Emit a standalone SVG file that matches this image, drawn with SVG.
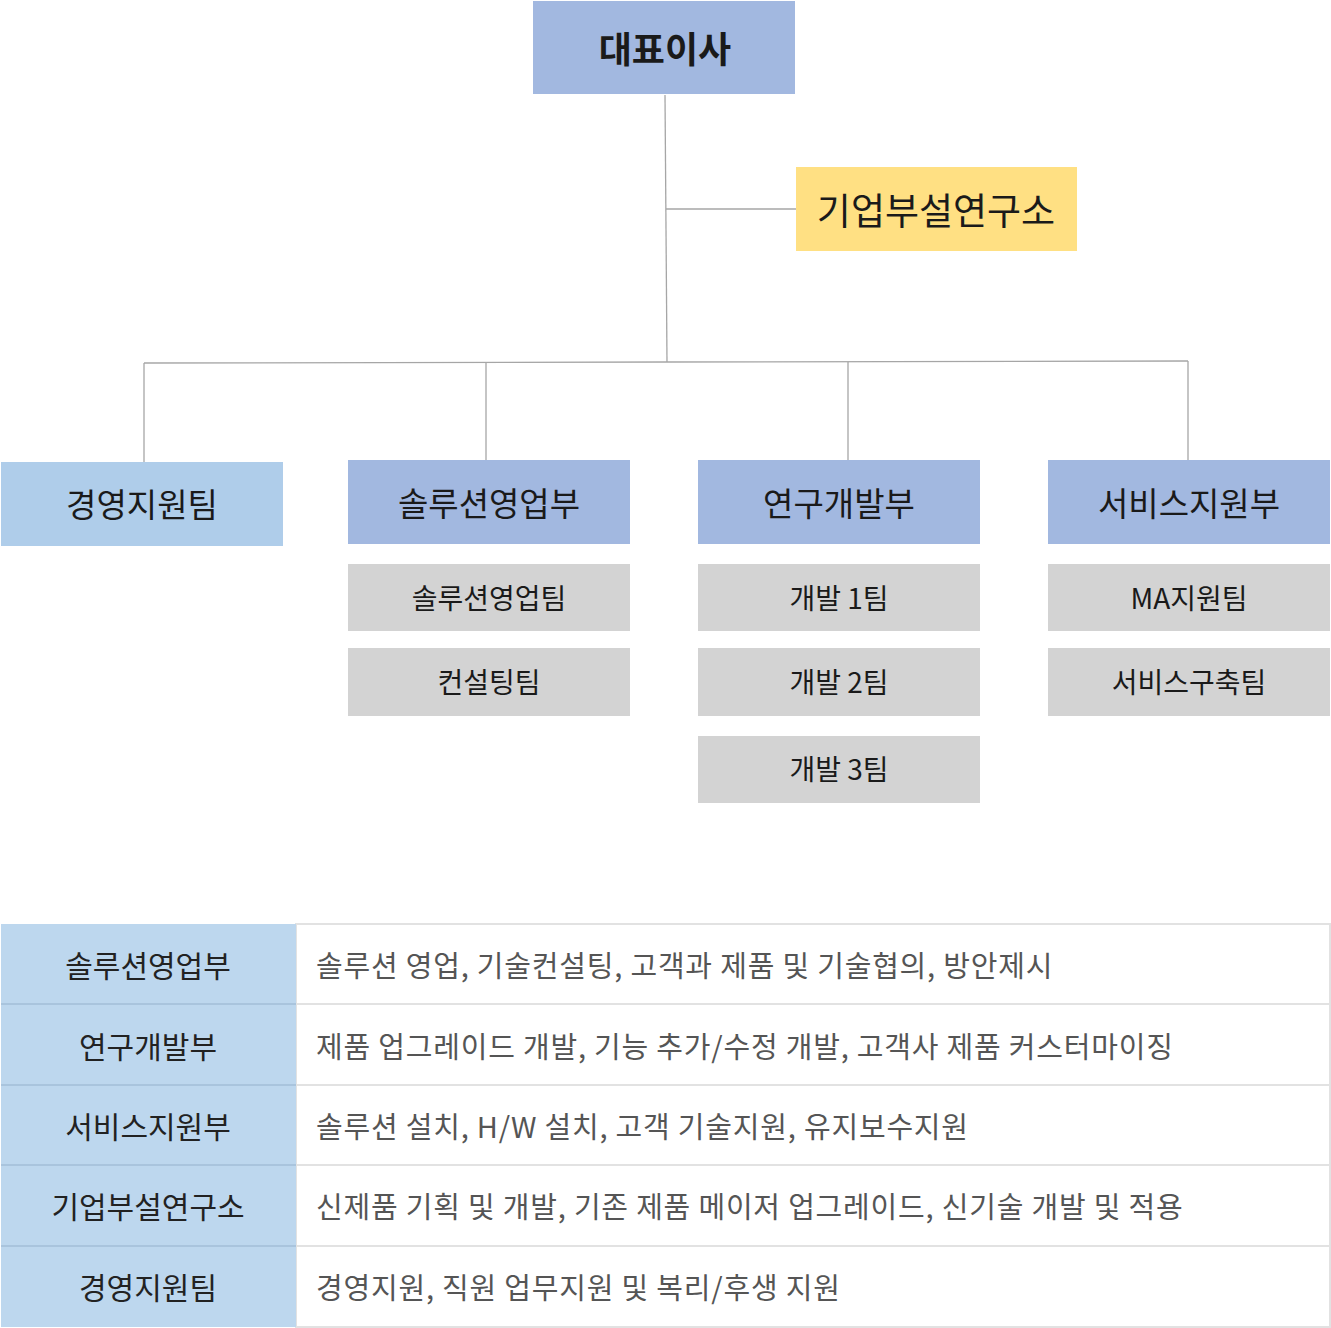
<svg xmlns="http://www.w3.org/2000/svg" width="1331" height="1328" viewBox="0 0 1331 1328">
<style>
text{font-family:"Noto Sans CJK KR","Noto Sans",sans-serif;dominant-baseline:central}
.t{text-anchor:middle;fill:#1a1a1a}
.big{font-size:33px}
.sub{font-size:28px}
.dept{fill:#a2b8e0}
.team{fill:#d3d3d3}
.conn{stroke:#a6a6a6;stroke-width:1.3;fill:none}
.hd{fill:#bdd7ee}
.cell{fill:#fff;stroke:#e2e2e2;stroke-width:2}
.th{font-size:30px;text-anchor:middle;fill:#222}
.td{font-size:29px;fill:#555;letter-spacing:0.8px}
</style>
<rect width="1331" height="1328" fill="#fff"/>
<g id="connectors">
<path class="conn" d="M665 95 L667 362"/>
<path class="conn" d="M666 209 H796"/>
<path class="conn" d="M144 363 L667 362 L1188 361"/>
<path class="conn" d="M144 363 V462"/>
<path class="conn" d="M486 362 V460"/>
<path class="conn" d="M848 362 V460"/>
<path class="conn" d="M1188 361 V460"/>
</g>
<g id="ceo"><rect x="533" y="1" width="262" height="93" class="dept"/><text x="665" y="47" class="t" font-size="36" font-weight="bold">대표이사</text></g>
<g id="lab"><rect x="796" y="167" width="281" height="84" fill="#ffe083"/><text x="936" y="209" class="t" font-size="37">기업부설연구소</text></g>
<g id="mgmt"><rect x="1" y="462" width="282" height="84" fill="#afcdea"/><text x="142" y="503" class="t big">경영지원팀</text></g>
<g id="sales"><rect x="348" y="460" width="282" height="84" class="dept"/><text x="489" y="502" class="t big">솔루션영업부</text></g>
<g id="rnd"><rect x="698" y="460" width="282" height="84" class="dept"/><text x="839" y="502" class="t big">연구개발부</text></g>
<g id="service"><rect x="1048" y="460" width="282" height="84" class="dept"/><text x="1189" y="502" class="t big">서비스지원부</text></g>
<g id="sales-team"><rect x="348" y="564" width="282" height="67" class="team"/><text x="489" y="597" class="t sub">솔루션영업팀</text></g>
<g id="consult-team"><rect x="348" y="648" width="282" height="68" class="team"/><text x="489" y="681" class="t sub">컨설팅팀</text></g>
<g id="dev1"><rect x="698" y="564" width="282" height="67" class="team"/><text x="839" y="597" class="t sub">개발 1팀</text></g>
<g id="dev2"><rect x="698" y="648" width="282" height="68" class="team"/><text x="839" y="681" class="t sub">개발 2팀</text></g>
<g id="dev3"><rect x="698" y="736" width="282" height="67" class="team"/><text x="839" y="768" class="t sub">개발 3팀</text></g>
<g id="ma-team"><rect x="1048" y="564" width="282" height="67" class="team"/><text x="1189" y="597" class="t sub">MA지원팀</text></g>
<g id="build-team"><rect x="1048" y="648" width="282" height="68" class="team"/><text x="1189" y="681" class="t sub">서비스구축팀</text></g>
<g id="table">
<rect x="296" y="924" width="1034" height="80" class="cell"/>
<rect x="296" y="1004" width="1034" height="81" class="cell"/>
<rect x="296" y="1085" width="1034" height="80" class="cell"/>
<rect x="296" y="1165" width="1034" height="81" class="cell"/>
<rect x="296" y="1246" width="1034" height="81" class="cell"/>
<rect x="1" y="924" width="295" height="403" class="hd"/>
<g stroke="#a9c4dd" stroke-width="2"><path d="M1 1004 H296 M1 1085 H296 M1 1165 H296 M1 1246 H296"/></g>
<text x="148" y="964" class="th">솔루션영업부</text>
<text x="148" y="1045" class="th">연구개발부</text>
<text x="148" y="1125" class="th">서비스지원부</text>
<text x="148" y="1205" class="th">기업부설연구소</text>
<text x="148" y="1286" class="th">경영지원팀</text>
<text x="316" y="964" class="td">솔루션 영업, 기술컨설팅, 고객과 제품 및 기술협의, 방안제시</text>
<text x="316" y="1045" class="td">제품 업그레이드 개발, 기능 추가/수정 개발, 고객사 제품 커스터마이징</text>
<text x="316" y="1125" class="td">솔루션 설치, H/W 설치, 고객 기술지원, 유지보수지원</text>
<text x="316" y="1205" class="td">신제품 기획 및 개발, 기존 제품 메이저 업그레이드, 신기술 개발 및 적용</text>
<text x="316" y="1286" class="td">경영지원, 직원 업무지원 및 복리/후생 지원</text>
</g>
</svg>
